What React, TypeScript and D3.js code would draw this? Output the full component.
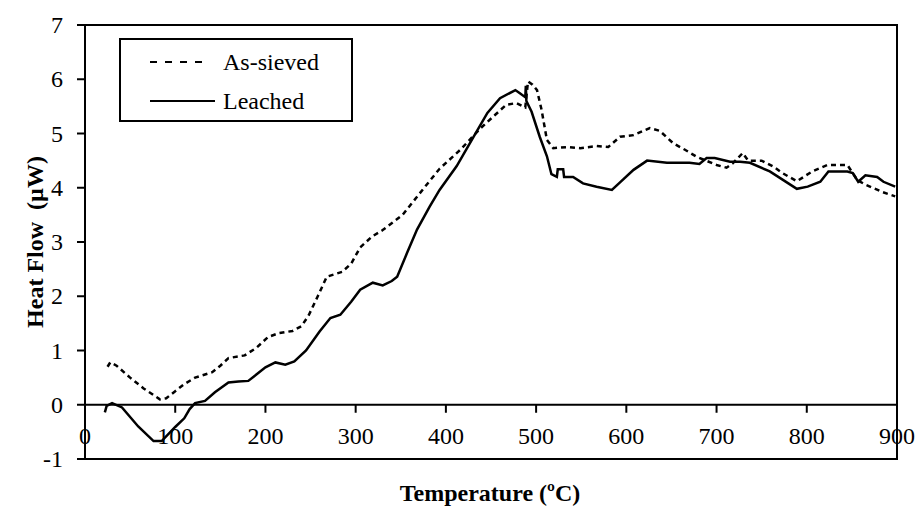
import React from "react";
import * as d3 from "d3";

const W = 919;
const H = 507;

// As-sieved (dashed)
const sievedT = [25, 28, 35, 50, 65, 83, 90, 100, 110, 122, 141, 150, 159, 177, 190, 203, 215, 230, 240, 248, 258, 268, 285, 295, 305, 318, 330, 352, 375, 393, 416, 438, 455, 467, 478, 488, 491, 496, 501, 506, 512, 519, 535, 549, 567, 580, 593, 608, 626, 637, 652, 665, 678, 700, 711, 718, 729, 735, 750, 763, 772, 789, 806, 823, 845, 856, 866, 884, 898];
const sievedV = [0.70, 0.78, 0.72, 0.5, 0.3, 0.1, 0.12, 0.25, 0.38, 0.5, 0.6, 0.72, 0.86, 0.91, 1.05, 1.25, 1.32, 1.36, 1.45, 1.65, 2.0, 2.36, 2.45, 2.6, 2.9, 3.1, 3.22, 3.5, 3.98, 4.35, 4.7, 5.09, 5.35, 5.53, 5.56, 5.48, 5.96, 5.9, 5.8, 5.44, 4.88, 4.73, 4.75, 4.73, 4.77, 4.75, 4.94, 4.97, 5.1, 5.05, 4.82, 4.7, 4.57, 4.42, 4.37, 4.45, 4.64, 4.5, 4.5, 4.39, 4.28, 4.12, 4.3, 4.42, 4.42, 4.14, 4.05, 3.92, 3.84];

// Leached (solid)
const leachedT = [22, 24, 30, 41, 59, 76, 85, 100, 110, 116, 122, 133, 144, 159, 170, 181, 200, 211, 222, 232, 245, 260, 272, 283, 295, 305, 319, 330, 340, 346, 357, 368, 382, 393, 412, 430, 446, 460, 477, 482, 488, 488.6, 489.2, 495, 504, 512, 517, 523, 524, 530, 531, 541, 552, 567, 584, 593, 608, 623, 645, 670, 681, 689, 698, 715, 726, 737, 759, 774, 789, 801, 815, 824, 845, 851, 857, 865, 878, 885, 898];
const leachedV = [-0.14, -0.02, 0.03, -0.05, -0.4, -0.67, -0.67, -0.41, -0.25, -0.08, 0.03, 0.07, 0.23, 0.41, 0.43, 0.44, 0.69, 0.78, 0.74, 0.8, 1.0, 1.35, 1.6, 1.66, 1.9, 2.12, 2.25, 2.2, 2.28, 2.36, 2.8, 3.23, 3.65, 3.96, 4.4, 4.92, 5.38, 5.65, 5.8, 5.74, 5.67, 5.88, 5.6, 5.4, 4.94, 4.58, 4.25, 4.2, 4.34, 4.34, 4.2, 4.2, 4.08, 4.02, 3.96, 4.1, 4.33, 4.5, 4.46, 4.46, 4.44, 4.55, 4.55, 4.48, 4.48, 4.46, 4.3, 4.14, 3.98, 4.02, 4.11, 4.3, 4.3, 4.27, 4.11, 4.23, 4.2, 4.11, 4.02];

const xTicks = [0, 100, 200, 300, 400, 500, 600, 700, 800, 900];
const yTicks = [-1, 0, 1, 2, 3, 4, 5, 6, 7];
const seriesNames = ["As-sieved", "Leached"];

const FONT = "Liberation Serif";
const txt = { fontFamily: FONT } as React.CSSProperties;

export default function App() {
  const left = 85, right = 897, top = 25, bottom = 459;
  const x = d3.scaleLinear().domain([0, 900]).range([left, right]);
  const y = d3.scaleLinear().domain([-1, 7]).range([bottom, top]);
  const line = d3.line<[number, number]>().x((d) => x(d[0])).y((d) => y(d[1]));
  const sieved = sievedT.map((t, i) => [t, sievedV[i]] as [number, number]);
  const leached = leachedT.map((t, i) => [t, leachedV[i]] as [number, number]);

  return (
    <svg width={W} height={H} style={{ position: "absolute", left: 0, top: 0, background: "#fff" }}>
      <rect x={0} y={0} width={W} height={H} fill="#fff" />
      {/* frame */}
      <rect x={left} y={top} width={right - left} height={bottom - top} fill="none" stroke="#000" strokeWidth={2} />
      {/* x axis at y=0 */}
      <line x1={left} x2={right} y1={y(0)} y2={y(0)} stroke="#000" strokeWidth={2} />
      {xTicks.map((t) => (
        <g key={"xt" + t}>
          <line x1={x(t)} x2={x(t)} y1={y(0)} y2={y(0) + 8} stroke="#000" strokeWidth={2} />
          <text x={x(t)} y={y(0) + 31} textAnchor="middle" dominantBaseline="central" style={txt} fontSize={24}>
            {t}
          </text>
        </g>
      ))}
      {yTicks.map((t) => (
        <g key={"yt" + t}>
          <line x1={left - 8} x2={left} y1={y(t)} y2={y(t)} stroke="#000" strokeWidth={2} />
          <text x={left - 22} y={y(t)} textAnchor="end" dominantBaseline="central" style={txt} fontSize={24}>
            {t}
          </text>
        </g>
      ))}
      {/* series */}
      <path d={line(sieved) || ""} fill="none" stroke="#000" strokeWidth={2.5} strokeDasharray="5 4" />
      <path d={line(leached) || ""} fill="none" stroke="#000" strokeWidth={2.5} />
      {/* legend */}
      <rect x={120} y={39} width={232} height={82} fill="#fff" stroke="#000" strokeWidth={2} />
      <line x1={150} x2={210} y1={62} y2={62} stroke="#000" strokeWidth={2} strokeDasharray="7 8" />
      <line x1={150} x2={215} y1={101} y2={101} stroke="#000" strokeWidth={2} />
      <text x={223} y={62} dominantBaseline="central" style={txt} fontSize={24}>{seriesNames[0]}</text>
      <text x={223} y={101} dominantBaseline="central" style={txt} fontSize={24}>{seriesNames[1]}</text>
      {/* axis titles */}
      <text x={490} y={493} textAnchor="middle" dominantBaseline="central" style={txt} fontSize={24} fontWeight="bold">
        Temperature (ºC)
      </text>
      <text transform={`translate(35,${(top + bottom) / 2}) rotate(-90)`} textAnchor="middle" dominantBaseline="central" style={txt} fontSize={24} fontWeight="bold">
        {"Heat Flow\u00a0 (µW)"}
      </text>
    </svg>
  );
}
